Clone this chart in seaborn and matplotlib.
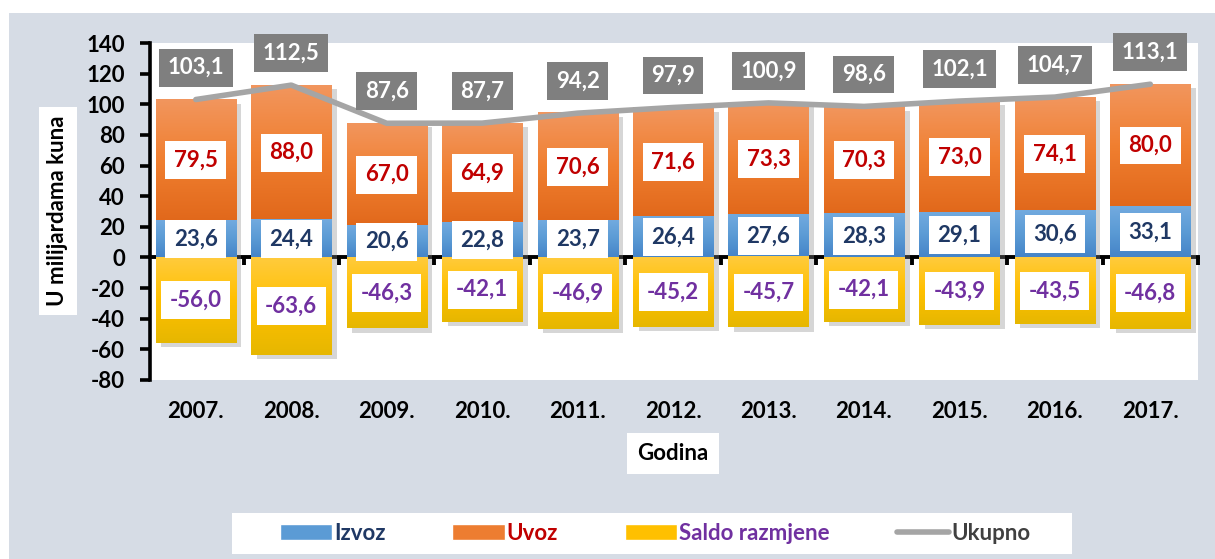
import numpy as np
import pandas as pd
import matplotlib.pyplot as plt
import seaborn as sns
from matplotlib.patches import Patch, Rectangle
from matplotlib.lines import Line2D
from matplotlib import patheffects as pe
from matplotlib.colors import LinearSegmentedColormap

# Podaci (milijarde kuna)
godine = ['2007.', '2008.', '2009.', '2010.', '2011.', '2012.',
          '2013.', '2014.', '2015.', '2016.', '2017.']
izvoz = [23.6, 24.4, 20.6, 22.8, 23.7, 26.4, 27.6, 28.3, 29.1, 30.6, 33.1]
uvoz = [79.5, 88.0, 67.0, 64.9, 70.6, 71.6, 73.3, 70.3, 73.0, 74.1, 80.0]
saldo = [-56.0, -63.6, -46.3, -42.1, -46.9, -45.2, -45.7, -42.1, -43.9, -43.5, -46.8]
ukupno = [103.1, 112.5, 87.6, 87.7, 94.2, 97.9, 100.9, 98.6, 102.1, 104.7, 113.1]

df = pd.DataFrame({'godina': godine, 'izvoz': izvoz, 'uvoz': uvoz,
                   'saldo': saldo, 'ukupno': ukupno})
df['vrh'] = df['izvoz'] + df['uvoz']

sns.set_theme(style='white')
plt.rcParams['font.family'] = ['Lato', 'DejaVu Sans']
plt.rcParams['font.weight'] = 'bold'
plt.rcParams['axes.unicode_minus'] = False
FS = 16

W, H = 1215, 559
fig = plt.figure(figsize=(W / 100, H / 100), dpi=100, facecolor='white')
fig.add_artist(Rectangle((9 / W, 0), 1 - 9 / W, 1 - 13 / H, transform=fig.transFigure,
                         facecolor='#d6dce5', edgecolor='none', zorder=-10))
ax = fig.add_axes([150 / W, 1 - 380 / H, 1048 / W, 337 / H])
ax.set_facecolor('white')

sjena = [pe.SimplePatchShadow(offset=(4, -3), shadow_rgbFace='#8c8c8c', alpha=0.35), pe.Normal()]

n0 = len(ax.patches)
sns.barplot(data=df, x='godina', y='vrh', color='#ed7d31', saturation=1, width=0.84,
            linewidth=0, ax=ax)
n1 = len(ax.patches)
sns.barplot(data=df, x='godina', y='izvoz', color='#5b9bd5', saturation=1, width=0.84,
            linewidth=0, ax=ax)
n2 = len(ax.patches)
sns.barplot(data=df, x='godina', y='saldo', color='#ffc000', saturation=1, width=0.84,
            linewidth=0, ax=ax)
n3 = len(ax.patches)

uvoz_bars = ax.patches[n0:n1]
izvoz_bars = ax.patches[n1:n2]
saldo_bars = ax.patches[n2:n3]


def gradijent(p, boje, y_dno=None):
    cmap = LinearSegmentedColormap.from_list('g', boje)
    grad = np.linspace(0, 1, 256).reshape(-1, 1)
    x0, w = p.get_x(), p.get_width()
    y0, h = p.get_y(), p.get_height()
    lo, hi = min(y0, y0 + h), max(y0, y0 + h)
    if y_dno is not None:
        lo = y_dno
    ax.imshow(grad, cmap=cmap, extent=(x0, x0 + w, lo, hi), aspect='auto',
              origin='upper', interpolation='bicubic', zorder=p.get_zorder() + 0.1)


for pu, pi in zip(uvoz_bars, izvoz_bars):
    pu.set_path_effects(sjena)
    gradijent(pu, ['#f2965e', '#f07f30', '#e1681b'], y_dno=pi.get_height())
    gradijent(pi, ['#72aadf', '#5b9bd5', '#4584c8'])
for ps in saldo_bars:
    ps.set_path_effects(sjena)
    gradijent(ps, ['#ffcb3d', '#ffc000', '#e6b700'])

sns.lineplot(x=np.arange(len(godine)), y=ukupno, ax=ax, color='#a5a5a5', lw=4,
             solid_capstyle='round', zorder=4)

fmt = lambda v: f'{v:.1f}'.replace('.', ',')
box = dict(boxstyle='square,pad=0.38', facecolor='white', edgecolor='none')
for i, r in df.iterrows():
    ax.text(i, r['izvoz'] / 2, fmt(r['izvoz']), ha='center', va='center', fontsize=FS,
            color='#1f3864', bbox=box, zorder=6)
    ax.text(i, r['izvoz'] + r['uvoz'] / 2, fmt(r['uvoz']), ha='center', va='center',
            fontsize=FS, color='#c00000', bbox=box, zorder=6)
    ax.text(i, r['saldo'] / 2, fmt(r['saldo']), ha='center', va='center', fontsize=FS,
            color='#7030a0', bbox=box, zorder=6)
    ax.annotate(fmt(r['ukupno']), xy=(i, r['ukupno']), xytext=(0, 23),
                textcoords='offset points', ha='center', va='center', fontsize=FS,
                color='white', zorder=6,
                bbox=dict(boxstyle='square,pad=0.38', facecolor='#7f7f7f', edgecolor='none'))

ymin, ymax = -80, 140
ax.set_ylim(ymin, ymax)
ax.set_xlim(-0.48, len(godine) - 0.5)
ax.set_yticks(np.arange(ymin, ymax + 1, 20))
ax.set_xticks(np.arange(len(godine)), godine)
ax.set_xlabel('')
ax.set_ylabel('')
for s in ['top', 'right', 'bottom']:
    ax.spines[s].set_visible(False)
ax.spines['left'].set_color('black')
ax.spines['left'].set_linewidth(2.6)
ax.spines['left'].set_zorder(7)
ax.tick_params(axis='y', direction='out', length=7, width=2.6, color='black',
               labelsize=FS, pad=11, left=True)
ax.tick_params(axis='x', length=0, labelsize=FS, pad=15)
for t in ax.get_xticklabels() + ax.get_yticklabels():
    t.set_fontweight('bold')
    t.set_color('black')

# os x na nuli, s oznakama izmedu godina
sec = ax.secondary_xaxis((0 - ymin) / (ymax - ymin))
sec.set_xticks(np.arange(len(godine) + 1) - 0.5, [''] * (len(godine) + 1))
sec.spines['bottom'].set_linewidth(2.8)
sec.spines['bottom'].set_color('black')
sec.tick_params(axis='x', direction='out', length=6, width=2.8, color='black')

fig.text(58 / W, 1 - 211 / H, 'U milijardama kuna', rotation=90, ha='center', va='center',
         fontsize=FS, color='black',
         bbox=dict(boxstyle='square,pad=0.4', facecolor='white', edgecolor='none'))
fig.text(673 / W, 1 - 453 / H, 'Godina', ha='center', va='center', fontsize=FS,
         color='black',
         bbox=dict(boxstyle='square,pad=0.45', facecolor='white', edgecolor='none'))

# legenda u bijelom okviru
fig.add_artist(Rectangle((232 / W, 1 - 554 / H), 840 / W, 41 / H, transform=fig.transFigure,
                         facecolor='white', edgecolor='none', zorder=-5))
ruke = [Patch(facecolor='#5b9bd5'), Patch(facecolor='#ed7d31'), Patch(facecolor='#ffc000'),
        Line2D([], [], color='#a5a5a5', lw=4, solid_capstyle='round')]
imena = ['Izvoz', 'Uvoz', 'Saldo razmjene', 'Ukupno']
leg = fig.legend(ruke, imena, ncol=4, loc='center',
                 bbox_to_anchor=(655 / W, 1 - 533.5 / H),
                 frameon=False, fontsize=FS, handlelength=2.35, handleheight=0.7,
                 handletextpad=0.1, columnspacing=3.0, borderpad=0, borderaxespad=0)
for t, c in zip(leg.get_texts(), ['#1f3864', '#c00000', '#7030a0', '#404040']):
    t.set_color(c)
    t.set_fontweight('bold')

fig.savefig('out.png', dpi=100, facecolor=fig.get_facecolor())
